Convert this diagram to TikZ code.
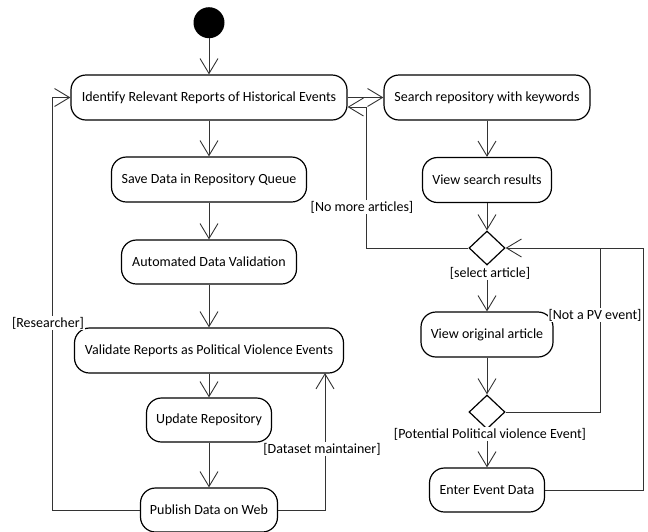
\documentclass[tikz,border=0pt]{standalone}
\usepackage{fontspec}
\setmainfont{Carlito}
\usetikzlibrary{arrows.meta,shapes.geometric}
\tikzset{
  act/.style={draw=black, line width=1.2pt, rounded corners=15pt, inner sep=0pt, align=center},
  dec/.style={draw=black, line width=1.2pt, diamond, inner sep=0pt, minimum width=36pt, minimum height=34pt},
  flow/.style={draw=black!80, line width=0.9pt, -{Straight Barb[length=15pt,width=18pt]}},
  line/.style={draw=black!80, line width=0.9pt},
  guard/.style={fill=white, inner sep=1pt},
}
\begin{document}
\begin{tikzpicture}[x=1pt,y=-1pt, every node/.style={font=\fontsize{14}{17}\selectfont}]
\useasboundingbox (0,0) rectangle (648,531);
\node[circle, fill=black, minimum size=31pt, inner sep=0pt] (start) at (209,22.7) {};
\node[act, minimum width=276pt, minimum height=45pt] (identify) at (209,97.5) {Identify Relevant Reports of Historical Events};
\node[act, minimum width=195pt, minimum height=45pt] (save) at (209,179.5) {Save Data in Repository Queue};
\node[act, minimum width=175pt, minimum height=44pt] (auto) at (209,262) {Automated Data Validation};
\node[act, minimum width=269pt, minimum height=45pt] (validate) at (209,350.5) {Validate Reports as Political Violence Events};
\node[act, minimum width=125pt, minimum height=44pt] (update) at (209,420) {Update Repository};
\node[act, minimum width=137pt, minimum height=44pt] (publish) at (209,510) {Publish Data on Web};
\node[act, minimum width=206pt, minimum height=45pt] (search) at (487,97.5) {Search repository with keywords};
\node[act, minimum width=129pt, minimum height=45pt] (viewres) at (487,180) {View search results};
\node[dec] (d1) at (487,248) {};
\node[act, minimum width=132pt, minimum height=45pt] (vieworig) at (487,334.5) {View original article};
\node[dec] (d2) at (487,412) {};
\node[act, minimum width=115pt, minimum height=44pt] (enter) at (487,490) {Enter Event Data};

\coordinate (c1) at (366,107);
\coordinate (c2) at (600,248);
\coordinate (c3) at (643,248);
\coordinate (c4) at (52,97.5);
\coordinate (c5) at (325,373);

\draw[flow] (start) -- (identify);
\draw[flow] (identify) -- (save);
\draw[flow] (save) -- (auto);
\draw[flow] (auto) -- (validate);
\draw[flow] (validate) -- (update);
\draw[flow] (update) -- (publish);
\draw[flow] (identify.east) -- (search.west);
\draw[flow] (search) -- (viewres);
\draw[flow] (viewres) -- (d1);
\draw[flow] (d1) -- (vieworig);
\draw[flow] (vieworig) -- (d2);
\draw[flow] (d2) -- (enter);
\draw[flow] (d1.west) -| (c1) -- (c1 -| identify.east);
\draw[line] (d2.east) -| (c2);
\draw[flow] (enter.east) -| (c3) -- (d1.east);
\draw[flow] (publish.west) -| (c4) -- (identify.west);
\draw[flow] (publish.east) -| (c5);

\node[guard] (g1) at (362,207) {[No more articles]};
\node[guard] (g2) at (490,273) {[select article]};
\node[guard] (g3) at (595,315) {[Not a PV event]};
\node[guard] (g4) at (490,434) {[Potential Political violence Event]};
\node[guard] (g5) at (48,323) {[Researcher]};
\node[guard] (g6) at (322,449) {[Dataset maintainer]};
\end{tikzpicture}
\end{document}
